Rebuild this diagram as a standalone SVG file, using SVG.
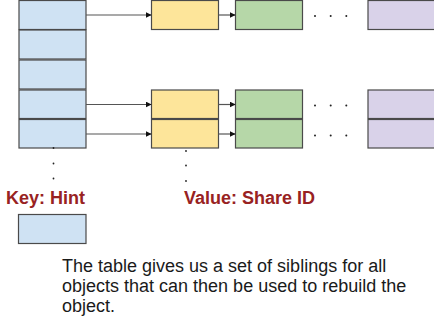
<svg xmlns="http://www.w3.org/2000/svg" width="434" height="324" viewBox="0 0 434 324">
  <style>
    .box { stroke: #4a4a4a; stroke-width: 1.2; }
    .key { fill: #cfe2f3; }
    .val { fill: #fde59a; }
    .sib { fill: #b6d7a8; }
    .end { fill: #d9d2e9; }
    .edge { stroke: #555; stroke-width: 1.2; fill: none; marker-end: url(#arrow); }
    .dot { fill: #222; }
    .label { font-family: "Liberation Sans", Arial, sans-serif; font-size: 18px; font-weight: bold; fill: #982222; }
    .note { font-family: "Liberation Sans", Arial, sans-serif; font-size: 18px; fill: #1a1a1a; }
  </style>
  <defs>
    <marker id="arrow" viewBox="0 0 10 10" refX="9" refY="5" markerWidth="6" markerHeight="6" markerUnits="userSpaceOnUse" orient="auto">
      <path d="M0,0 L10,5 L0,10 z" fill="#111"/>
    </marker>
  </defs>

  <rect width="434" height="324" fill="#fff"/>

  <!-- hash table keys -->
  <g id="keys">
    <rect class="box key" x="19" y="0.5" width="67" height="29"/>
    <rect class="box key" x="19" y="30" width="67" height="29"/>
    <rect class="box key" x="19" y="60" width="67" height="29"/>
    <rect class="box key" x="19" y="90" width="67" height="28.5"/>
    <rect class="box key" x="19" y="119.5" width="67" height="28.5"/>
  </g>

  <!-- chain for first key -->
  <g id="chain1">
    <rect class="box val" x="151.5" y="0.5" width="67" height="29"/>
    <rect class="box sib" x="235.5" y="0.5" width="67" height="29"/>
    <rect class="box end" x="368" y="0.5" width="70" height="29"/>
    <circle class="dot" cx="315" cy="16" r="1"/>
    <circle class="dot" cx="330.7" cy="16" r="1"/>
    <circle class="dot" cx="346.3" cy="16" r="1"/>
  </g>

  <!-- chain for fourth key -->
  <g id="chain4">
    <rect class="box val" x="151.5" y="90" width="67" height="28.5"/>
    <rect class="box sib" x="235.5" y="90" width="67" height="28.5"/>
    <rect class="box end" x="368" y="90" width="70" height="28.5"/>
    <circle class="dot" cx="315" cy="105.5" r="1"/>
    <circle class="dot" cx="330.7" cy="105.5" r="1"/>
    <circle class="dot" cx="346.3" cy="105.5" r="1"/>
  </g>

  <!-- chain for fifth key -->
  <g id="chain5">
    <rect class="box val" x="151.5" y="119.5" width="67" height="28.5"/>
    <rect class="box sib" x="235.5" y="119.5" width="67" height="28.5"/>
    <rect class="box end" x="368" y="119.5" width="70" height="28.5"/>
    <circle class="dot" cx="315" cy="135.5" r="1"/>
    <circle class="dot" cx="330.7" cy="135.5" r="1"/>
    <circle class="dot" cx="346.3" cy="135.5" r="1"/>
  </g>

  <!-- connectors -->
  <g id="connectors">
    <line class="edge" x1="86" y1="15" x2="151" y2="15"/>
    <line class="edge" x1="218.5" y1="15" x2="235" y2="15"/>
    <line class="edge" x1="86" y1="104.5" x2="151" y2="104.5"/>
    <line class="edge" x1="218.5" y1="104.5" x2="235" y2="104.5"/>
    <line class="edge" x1="86" y1="134" x2="151" y2="134"/>
    <line class="edge" x1="218.5" y1="134" x2="235" y2="134"/>
  </g>

  <!-- continuation dots -->
  <g id="more-keys">
    <circle class="dot" cx="53.5" cy="148" r="0.9"/>
    <circle class="dot" cx="53.5" cy="163.5" r="0.9"/>
    <circle class="dot" cx="53.5" cy="178.5" r="0.9"/>
  </g>
  <g id="more-values">
    <circle class="dot" cx="186" cy="151" r="0.9"/>
    <circle class="dot" cx="186" cy="165.5" r="0.9"/>
    <circle class="dot" cx="186" cy="181" r="0.9"/>
  </g>

  <!-- column labels -->
  <text class="label" x="6" y="204">Key: Hint</text>
  <text class="label" x="184" y="204">Value: Share ID</text>

  <!-- legend swatch -->
  <g id="legend">
    <rect class="box key" x="18.5" y="214.5" width="67.5" height="29"/>
  </g>

  <!-- description -->
  <text class="note">
    <tspan x="62" y="272">The table gives us a set of siblings for all</tspan>
    <tspan x="62" y="292">objects that can then be used to rebuild the</tspan>
    <tspan x="62" y="312">object.</tspan>
  </text>
</svg>
